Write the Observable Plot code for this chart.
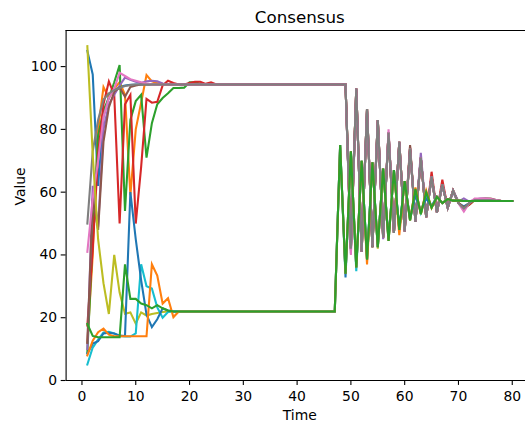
<!DOCTYPE html>
<html><head><meta charset="utf-8">
<script src="https://cdn.jsdelivr.net/npm/d3@7"></script>
<script src="https://cdn.jsdelivr.net/npm/@observablehq/plot@0.6"></script>
<style>
html,body{margin:0;padding:0;background:#fff;overflow:hidden;width:525px;height:424px}
svg{display:block}
</style></head><body><div id="chart"></div>
<script>
// Time steps 1..80
const times = d3.range(1, 81);

// Series values (t = 1..80)
const blueA = [105,97.5,62,84,90.5,92.5,93.5,94,94.2,94.3, 94.3,94.3,94.3,94.3,94.3,94.3,94.3,94.3,94.3,94.3,
  94.3,94.3,94.3,94.3,94.3,94.3,94.3,94.3,94.3,94.3, 94.3,94.3,94.3,94.3,94.3,94.3,94.3,94.3,94.3,94.3, 94.3,94.3,94.3,94.3,94.3,94.3,94.3,94.3,94.3,
  42,92.5,41.5,86,43,82.5,46,78.5,47.5,75.5, 48,73.5,51,70.5,52.5,64.5,54,62,55.5,60, 56.5,55.5,56.5,57.5,57.5,57.4,57.3,57.2,57.2,57.2, 57.2];
const orangeA = [12,40,80,93.5,90,93,95,91,59,80, 88.5,97.3,95.3,94.8,94.5,94.3,94.3,94.3,94.3,94.3,
  94.3,94.3,94.3,94.3,94.3,94.3,94.3,94.3,94.3,94.3, 94.3,94.3,94.3,94.3,94.3,94.3,94.3,94.3,94.3,94.3, 94.3,94.3,94.3,94.3,94.3,94.3,94.3,94.3,94.3,
  42,93,41,86.5,42.5,83,45.5,79,47,76, 47.5,74,50.5,71,52,65,53.5,62.5,55,60.5, 56.5,55,56,57.5,57.5,57.5,57.5,57.3,57.2,57.2, 57.2];
const greenA = [9,45,78,86,90,95,100.5,54,83,89, 91,71,82,88,90,91.5,93.2,93.2,93.3,95,
  95,94.5,94.3,94.3,94.3,94.3,94.3,94.3,94.3,94.3, 94.3,94.3,94.3,94.3,94.3,94.3,94.3,94.3,94.3,94.3, 94.3,94.3,94.3,94.3,94.3,94.3,94.3,94.3,94.3,
  42,93,41,86.5,42.5,83,45.5,79,47,76, 47.5,74,50.5,71,52,65,53.5,62.5,55,60.5, 56.5,55,56,57.5,57.5,57.5,57.5,57.3,57.2,57.2, 57.2];
const redA = [17.5,42,72,88,95.3,91,50,88,91,50, 68,89.7,88.5,88.8,94,95.5,94.8,94.3,94.3,94.8,
  95.2,95.2,94.5,95,94.3,94.3,94.3,94.3,94.3,94.3, 94.3,94.3,94.3,94.3,94.3,94.3,94.3,94.3,94.3,94.3, 94.3,94.3,94.3,94.3,94.3,94.3,94.3,94.3,94.3,
  41.5,93,41,86.5,42.5,83,45.5,79,47,76, 47.5,74.5,50.5,71,52,66.5,53.5,64,55,60.5, 56.5,55,56,57.5,57.5,57.5,57.5,57.3,57.2,57.2, 57.2];
const purpleA = [10,62,49,80,88,91,94,96.5,95.8,95.2, 94.8,95.3,95.5,95.3,94.6,94.3,94.3,94.3,94.3,94.3,
  94.3,94.3,94.3,94.3,94.3,94.3,94.3,94.3,94.3,94.3, 94.3,94.3,94.3,94.3,94.3,94.3,94.3,94.3,94.3,94.3, 94.3,94.3,94.3,94.3,94.3,94.3,94.3,94.3,94.3,
  40.5,93,41,86.5,42.5,83,45,79,47,76, 47.5,74,50.5,72.5,52,65,53.5,62.5,55,60.5, 57,58,57,57.6,58,58,57.8,57.4,57.2,57.2, 57.2];
const brownA = [12,58,48,76,87,92,93.3,90.4,93.5,94, 94.3,94.3,94.3,94.3,94.3,94.3,94.3,94.3,94.3,94.3,
  94.3,94.3,94.3,94.3,94.3,94.3,94.3,94.3,94.3,94.3, 94.3,94.3,94.3,94.3,94.3,94.3,94.3,94.3,94.3,94.3, 94.3,94.3,94.3,94.3,94.3,94.3,94.3,94.3,94.3,
  42,93,41,86.5,42.5,83,45.5,79,47,76, 47.5,75,50.5,71,52,65,53.5,62.5,55,60.5, 56.5,55,56.5,57.5,57.8,58,58,57.5,57.2,57.2, 57.2];
const pinkA = [41,58,70,84,90,93,98,97,96,95.5, 95,94.6,94.3,94.3,94.3,94.3,94.3,94.3,94.3,94.3,
  94.3,94.3,94.3,94.3,94.3,94.3,94.3,94.3,94.3,94.3, 94.3,94.3,94.3,94.3,94.3,94.3,94.3,94.3,94.3,94.3, 94.3,94.3,94.3,94.3,94.3,94.3,94.3,94.3,94.3,
  40,93,41,86.5,43,83,45.5,80,47,76, 47.5,74,50.5,71,52,65,53.5,62.5,55,60.5, 56.5,53.8,56.5,58,58,58,57.8,57.5,57.2,57.2, 57.2];
const grayA = [50,73,83,89.5,91.5,92.5,93.2,93.8,94.1,94.3, 94.3,94.3,94.3,94.3,94.3,94.3,94.3,94.3,94.3,94.3,
  94.3,94.3,94.3,94.3,94.3,94.3,94.3,94.3,94.3,94.3, 94.3,94.3,94.3,94.3,94.3,94.3,94.3,94.3,94.3,94.3, 94.3,94.3,94.3,94.3,94.3,94.3,94.3,94.3,94.3,
  42,93,41,86.5,42.5,83,45.5,79,47,76, 47.5,74,50.5,71,52,65,53.5,62.5,55,60.5, 56.5,54.8,56.5,57.5,57.5,57.5,57.5,57.3,57.2,57.2, 57.2];
const oliveB = [106.5,72,45,31,21.2,40,28,21.3,21.7,18.1, 21.7,20.7,21.2,21.5,21.8,22,22,22,22,22,
  22,22,22,22,22,22,22,22,22,22, 22,22,22,22,22,22,22,22,22,22, 22,22,22,22,22,22,22,
  74.5,34,73,36,70,38.5,69.5,42,67.5,44.5, 67,48,63.5,51,61,53,60,55,58.5,56.5, 57.8,57.3,57.3,57.2,57.2,57.2,57.2,57.2,57.2,57.2, 57.2,57.2,57.2];
const cyanB = [5.1,10.5,13,15.3,15.5,15,14.2,14,14,15, 37,30,29.3,23.3,20,21.8,22,22,22,22,
  22,22,22,22,22,22,22,22,22,22, 22,22,22,22,22,22,22,22,22,22, 22,22,22,22,22,22,22,
  75,34,73,34.8,70,38.5,69.5,42.5,67.5,44.5, 67,48,63.5,51,60.5,53.5,59.5,55.5,58.5,56.5, 57.8,57.3,57.3,57.2,57.2,57.2,57.2,57.2,57.2,57.2, 57.2,57.2,57.2];
const blueB = [8.6,11.8,12.5,15,15.2,15,14.3,14.2,60,45, 32,21,17,19.5,23,22.3,22,22,22,22,
  22,22,22,22,22,22,22,22,22,22, 22,22,22,22,22,22,22,22,22,22, 22,22,22,22,22,22,22,
  75,32.8,73,36,70,38.5,69.5,42.5,67.5,45, 67,48,63.5,51.5,59,54,58,55.5,58.5,56.5, 57.8,57.3,57.3,57.2,57.2,57.2,57.2,57.2,57.2,57.2, 57.2,57.2,57.2];
const orangeB = [8,12.7,15.4,16.5,14.6,14.1,14.1,14.1,14.1,14.1, 14.1,14.1,37,33.4,24.5,26.2,20.2,22,22,22,
  22,22,22,22,22,22,22,22,22,22, 22,22,22,22,22,22,22,22,22,22, 22,22,22,22,22,22,22,
  75,34,73,36,70,37,69.5,42.5,67.5,44.5, 67,46.3,63.5,51,61.5,53,60.5,55,58.5,56.5, 57.8,57.3,57.3,57.2,57.2,57.2,57.2,57.2,57.2,57.2, 57.2,57.2,57.2];
const greenB = [18,14.2,13.8,13.8,13.8,13.8,13.8,37,26,26, 24.5,24,23,24,23,22.3,22,22,22,22,
  22,22,22,22,22,22,22,22,22,22, 22,22,22,22,22,22,22,22,22,22, 22,22,22,22,22,22,22,
  75,34,73,36,70,38.5,69.5,42.5,67.5,44.5, 67,48,63.5,51,61,53,60,55,58.5,56.5, 57.8,57.3,57.3,57.2,57.2,57.2,57.2,57.2,57.2,57.2, 57.2,57.2,57.2];

const seriesList = [blueA, orangeA, greenA, redA, purpleA, brownA, pinkA, grayA, oliveB, cyanB, blueB, orangeB, greenB];
const seriesColors = ["#1f77b4","#ff7f0e","#2ca02c","#d62728","#9467bd","#8c564b","#e377c2","#7f7f7f","#bcbd22","#17becf","#1f77b4","#ff7f0e","#2ca02c"];

const xTicks = [0,10,20,30,40,50,60,70,80];
const yTicks = [0,20,40,60,80,100];
const titleText = "Consensus";
const xLabel = "Time";
const yLabel = "Value";

seriesList.forEach((s,i)=>{ if (s.length !== times.length) throw new Error("series " + i + " has length " + s.length); });

const xDomain = [-2.95, 83.95];
const yDomain = [0, 111.5];
const xMid = (xDomain[0] + xDomain[1]) / 2;
const yMid = (yDomain[0] + yDomain[1]) / 2;

const lineMarks = seriesList.map((vals, i) =>
  Plot.line(times.map((t, j) => ({t, value: vals[j]})), {
    x: "t", y: "value", stroke: seriesColors[i], strokeWidth: 2.08,
    strokeLinejoin: "miter", strokeMiterlimit: 4, strokeLinecap: "square"
  })
);

const chart = Plot.plot({
  width: 525, height: 424,
  marginTop: 30, marginBottom: 44, marginLeft: 65.6, marginRight: 0,
  x: {domain: xDomain, range: [65.6, 533]},
  y: {domain: yDomain, range: [380, 30]},
  style: {fontFamily: "'DejaVu Sans', sans-serif", fontSize: "13.9px", color: "black", background: "white", overflow: "hidden"},
  marks: [
    ...lineMarks,
    Plot.ruleX([xDomain[0]], {stroke: "black", strokeWidth: 1.1}),
    Plot.ruleY([yDomain[0], yDomain[1]], {stroke: "black", strokeWidth: 1.1}),
    Plot.axisX(xTicks, {tickSize: 4.9, tickPadding: 6, label: null, fontSize: 13.9, strokeWidth: 1.1}),
    Plot.axisY(yTicks, {tickSize: 4.9, tickPadding: 4, label: null, fontSize: 13.9, strokeWidth: 1.1}),
    Plot.text([titleText], {x: xMid, frameAnchor: "top", lineAnchor: "middle", dy: -12.5, fontSize: 16.7, text: d => d}),
    Plot.text([xLabel], {x: xMid, frameAnchor: "bottom", lineAnchor: "middle", dy: 34.6, fontSize: 13.9, text: d => d}),
    Plot.text([yLabel], {y: yMid, frameAnchor: "left", dx: -46, rotate: -90, fontSize: 13.9, text: d => d})
  ]
});
document.getElementById("chart").appendChild(chart);
</script></body></html>
